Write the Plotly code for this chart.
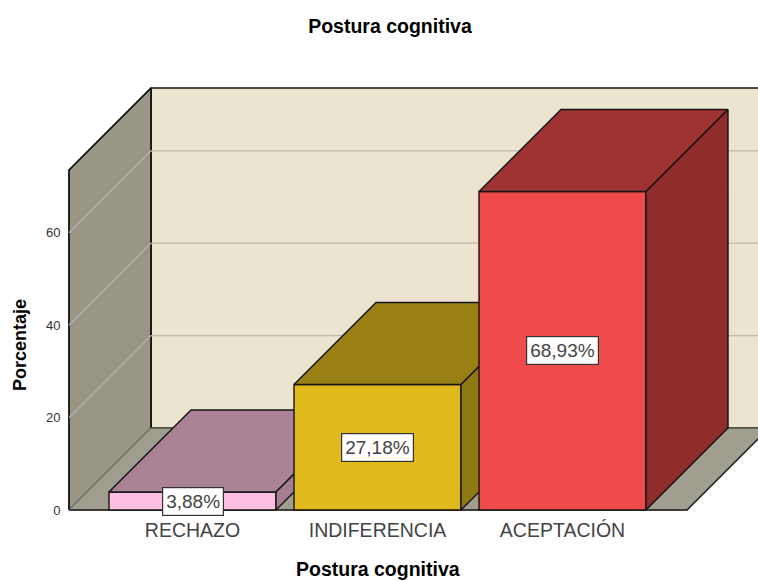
import plotly.graph_objects as go

categories = ["RECHAZO", "INDIFERENCIA", "ACEPTACIÓN"]
values = [3.88, 27.18, 68.93]
labels = ["3,88%", "27,18%", "68,93%"]
y_ticks = [0, 20, 40, 60, 80]
y_tick_labels = ["0", "20", "40", "60", ""]
front_colors = ["#FFBFE0", "#E0BA1A", "#EF4B4B"]
top_colors = ["#AB8296", "#9A8012", "#9F3232"]
side_colors = ["#A67E91", "#8F7915", "#8F2D2D"]

W, H = 758, 581
L, R, T, B = 66, 0, 80, 65
PX_X = 185.0          # px per category step
PX_Y = 4.62           # px per percent
X0 = -0.6676          # left front corner of the box in axis units
X1 = 2.6730           # right front corner
Y_TOP = 340 / PX_Y
DX = 82 / PX_X        # oblique depth in axis units
DY = 82 / PX_Y
BAR_W = 167 / PX_X

x_range = [X0 - 3 / PX_X, X0 + (W - 69) / PX_X]
y_range = [-6 / PX_Y, 430 / PX_Y]

EDGE = "#141414"
traces = []


def poly(xs, ys, fill, line=EDGE, width=1.4, xa="x", ya="y"):
    return go.Scatter(x=xs, y=ys, mode="lines", fill="toself", fillcolor=fill,
                      line=dict(color=line, width=width), hoverinfo="skip",
                      showlegend=False, xaxis=xa, yaxis=ya)


def seg(xs, ys, color, width=1.4):
    return go.Scatter(x=xs, y=ys, mode="lines", line=dict(color=color, width=width),
                      hoverinfo="skip", showlegend=False)


def paper_x(px):
    return (px - L) / (W - L - R)


def paper_y(py):
    return (H - B - py) / (H - T - B)


# back wall, left wall, floor
traces.append(poly([X0 + DX, X1 + DX, X1 + DX, X0 + DX, X0 + DX],
                   [DY, DY, DY + Y_TOP, DY + Y_TOP, DY], "#EBE5D0"))
traces.append(poly([X0, X0 + DX, X0 + DX, X0, X0],
                   [0, DY, DY + Y_TOP, Y_TOP, 0], "#9A9686"))
traces.append(poly([X0, X1, X1 + DX, X0 + DX, X0],
                   [0, 0, DY, DY, 0], "#A09E8E", line="#555349"))
traces.append(seg([X0, X1, X1 + DX], [0, 0, DY], "#2A2A2A"))
traces.append(seg([X0, X0 + DX], [0, DY], "#8A887C", 1.2))
traces.append(seg([X0, X0, X0 + DX, X0 + DX], [0, Y_TOP, DY + Y_TOP, DY], EDGE))

# grid on the walls
for t in y_ticks[1:]:
    if t > Y_TOP:
        continue
    traces.append(seg([X0, X0 + DX], [t, t + DY], "#B3B1A6", 1.3))
    traces.append(seg([X0 + DX, X1 + DX], [t + DY, t + DY], "#BDB9AC", 1.3))

layout_axes = {}
# each category gets its own overlaid axis pair so nearer bars cover farther ones
for i, (cat, v) in enumerate(zip(categories, values)):
    n = i + 2
    xa, ya = f"x{n}", f"y{n}"
    layout_axes[f"xaxis{n}"] = dict(overlaying="x", matches="x", visible=False)
    layout_axes[f"yaxis{n}"] = dict(overlaying="y", matches="y", visible=False)
    l, r = i - BAR_W / 2, i + BAR_W / 2
    traces.append(go.Bar(x=[i], y=[v], width=[BAR_W], name=cat, xaxis=xa, yaxis=ya,
                         marker=dict(color=front_colors[i], line=dict(color=EDGE, width=1.4)),
                         showlegend=False))
    traces.append(poly([l, r, r + DX, l + DX, l], [v, v, v + DY, v + DY, v],
                       top_colors[i], xa=xa, ya=ya))
    traces.append(poly([r, r + DX, r + DX, r, r], [0, DY, v + DY, v, 0],
                       side_colors[i], xa=xa, ya=ya))

annotations = [
    dict(x=i, y=v / 2, xref="x", yref="y", text=lab, showarrow=False,
         bgcolor="#FFFFFF", bordercolor="#333333", borderwidth=1.2, borderpad=3,
         font=dict(family="Liberation Sans", size=19, color="#444444"))
    for i, (v, lab) in enumerate(zip(values, labels))
]
annotations.append(dict(x=paper_x(378), y=paper_y(569), xref="paper", yref="paper",
                        text="<b>Postura cognitiva</b>", showarrow=False,
                        xanchor="center", yanchor="middle",
                        font=dict(family="Liberation Sans", size=19.5, color="#000000")))
annotations.append(dict(x=paper_x(20), y=paper_y(345), xref="paper", yref="paper",
                        text="<b>Porcentaje</b>", showarrow=False, textangle=-90,
                        xanchor="center", yanchor="middle",
                        font=dict(family="Liberation Sans", size=18, color="#000000")))

fig = go.Figure(traces)
fig.update_layout(
    width=W, height=H,
    margin=dict(l=L, r=R, t=T, b=B),
    paper_bgcolor="#FFFFFF", plot_bgcolor="#FFFFFF",
    barmode="overlay",
    showlegend=False,
    title=dict(text="<b>Postura cognitiva</b>", x=390 / W, xanchor="center",
               y=1 - 26 / H, yanchor="middle",
               font=dict(family="Liberation Sans", size=19.5, color="#000000")),
    xaxis=dict(range=x_range, tickmode="array", tickvals=list(range(len(categories))),
               ticktext=categories, showgrid=False, zeroline=False, showline=False, ticks="",
               tickfont=dict(family="Liberation Sans", size=19.5, color="#444444")),
    yaxis=dict(range=y_range, tickmode="array", tickvals=y_ticks, ticktext=y_tick_labels,
               showgrid=False, zeroline=False, showline=False,
               ticks="outside", ticklen=2, tickcolor="rgba(0,0,0,0)",
               tickfont=dict(family="Liberation Sans", size=13, color="#333333")),
    annotations=annotations,
    **layout_axes,
)
fig.write_html("out.html", config={"displayModeBar": False},
               post_script="document.body.style.margin='0';")
